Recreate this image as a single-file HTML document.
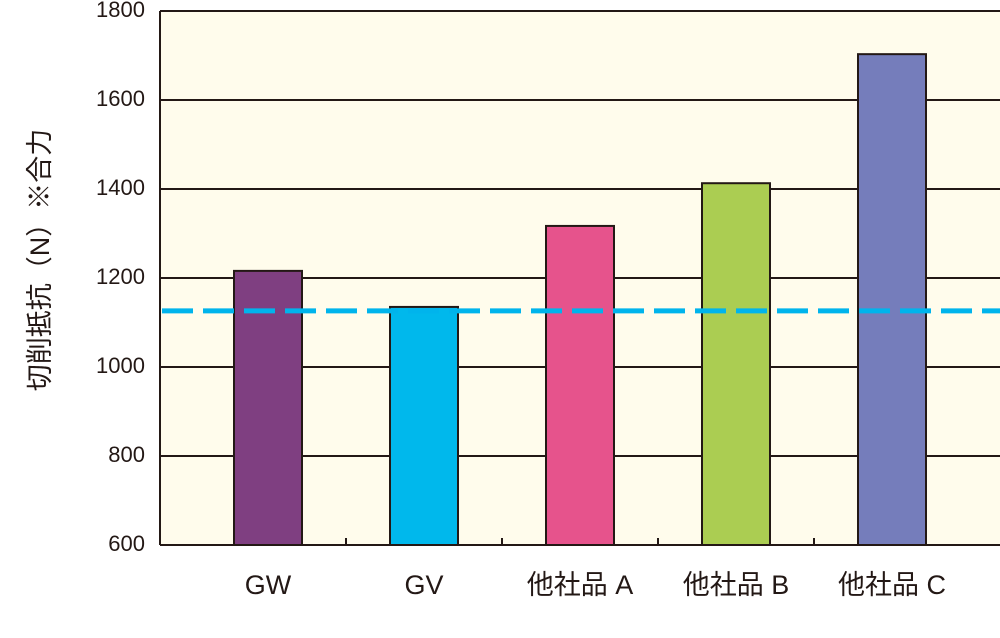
<!DOCTYPE html>
<html><head><meta charset="utf-8"><style>
body{margin:0;background:#fff}
svg{display:block}
text{font-family:"Liberation Sans","Noto Sans CJK JP",sans-serif;fill:#231815}
</style></head><body>
<svg width="1000" height="638">
<rect x="160" y="11" width="845" height="534" fill="#fffcec"/>
<g id="grid"></g>
<g id="bars"></g>
<line id="ref" stroke="#00b4ec" stroke-width="5" stroke-dasharray="31 10"/>
<g id="axes"></g>
<text x="42" y="260" font-size="27" text-anchor="middle" transform="rotate(-90 42 260)" dominant-baseline="middle">切削抵抗（N）※合力</text>
</svg>
<script>
const categories=["GW","GV","他社品 A","他社品 B","他社品 C"];
const values=[1216,1135,1317,1413,1703];
const colors=["#7f3f81","#00b8ec","#e6538c","#abcd52","#757dbb"];
const yTicks=[600,800,1000,1200,1400,1600,1800];
const refValue=1126;
const NS="http://www.w3.org/2000/svg";
const y0=545,ymin=600,ymax=1800,pxPer=534/(ymax-ymin);
const y=v=>y0-(v-ymin)*pxPer;
const xc=i=>268+i*156;
const bw=68;
function mk(t,a,p){const e=document.createElementNS(NS,t);for(const k in a)e.setAttribute(k,a[k]);p.appendChild(e);return e;}
const grid=document.getElementById('grid'),bars=document.getElementById('bars'),axes=document.getElementById('axes');
yTicks.forEach(v=>{
  const l=mk('line',{x1:160,x2:1000,y1:y(v),y2:y(v),stroke:'#231815','stroke-width':2},grid);
  
  
  const t=mk('text',{x:145,y:y(v),'font-size':22,'text-anchor':'end','dominant-baseline':'middle'},axes);
  t.textContent=v;
  
  
});
categories.forEach((c,i)=>{
  const r=mk('rect',{x:xc(i)-bw/2,y:y(values[i]),width:bw,height:y0-y(values[i]),fill:colors[i],stroke:'#231815','stroke-width':2},bars);
  
  
  const t=mk('text',{x:xc(i),y:594,'font-size':27,'text-anchor':'middle'},axes);
  t.textContent=c;
  
  
  if(i<categories.length-1){
    const tk=mk('line',{x1:xc(i)+78,x2:xc(i)+78,y1:y0,y2:y0-7,stroke:'#231815','stroke-width':2},axes);
    
    
  }
});
const ax=mk('line',{x1:160,x2:160,y1:11,y2:y0,stroke:'#231815','stroke-width':2},axes);


const ref=document.getElementById('ref');
ref.setAttribute('x1',162);ref.setAttribute('x2',1000);
ref.setAttribute('y1',y(refValue));ref.setAttribute('y2',y(refValue));
</script>
</body></html>
